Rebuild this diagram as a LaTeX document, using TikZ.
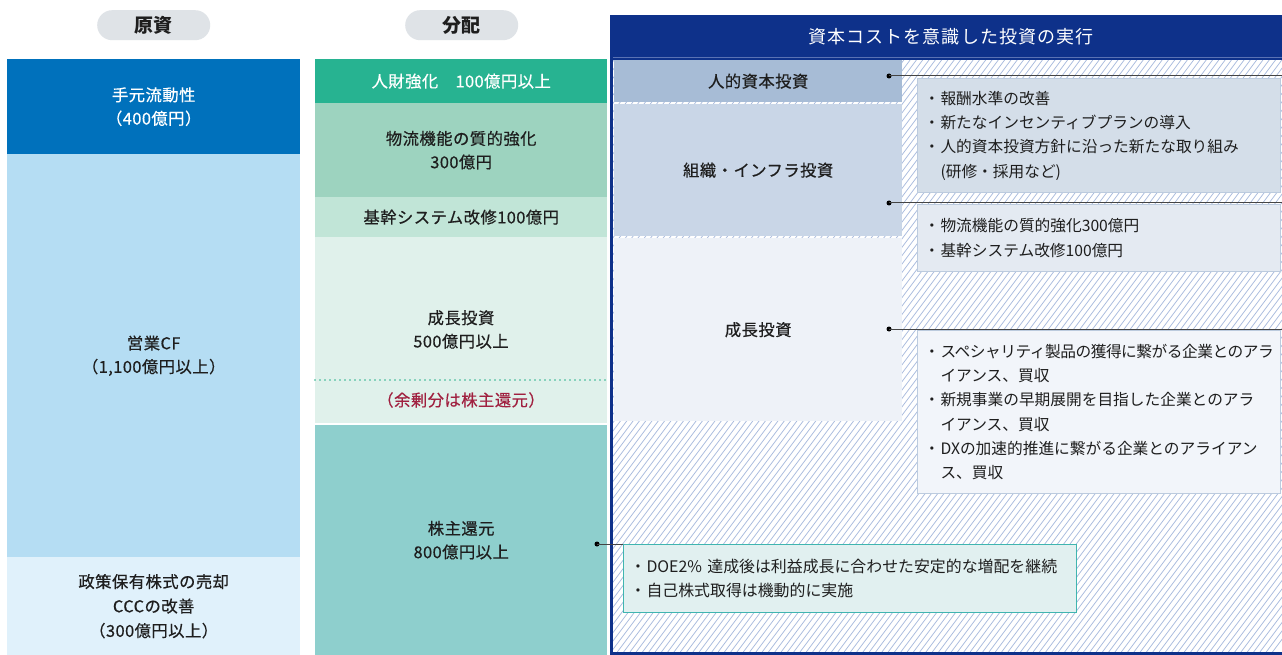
\documentclass[tikz,border=0pt]{standalone}
\usepackage{fontspec}
\setmainfont{Noto Sans CJK JP}
\newfontfamily\labf[LetterSpace=3,FakeBold=0.5]{Noto Sans CJK JP}
\newfontfamily\headf[LetterSpace=6]{Noto Sans CJK JP}
\newfontfamily\tightf[LetterSpace=-3]{Noto Sans CJK JP}
\definecolor{navy}{HTML}{0E318A}
\definecolor{navyline}{HTML}{5A72B4}
\definecolor{pillg}{HTML}{DFE3E7}
\definecolor{lblue}{HTML}{0071BC}
\definecolor{lblueb}{HTML}{B5DDF3}
\definecolor{lbluec}{HTML}{E0F1FB}
\definecolor{mga}{HTML}{27B391}
\definecolor{mgb}{HTML}{9DD3BF}
\definecolor{mgc}{HTML}{C1E5D7}
\definecolor{mgd}{HTML}{E0F1EB}
\definecolor{mge}{HTML}{8ECFCD}
\definecolor{dotg}{HTML}{2EB38F}
\definecolor{crim}{HTML}{A0203F}
\definecolor{ra}{HTML}{A7BCD6}
\definecolor{rb}{HTML}{C9D6E7}
\definecolor{rc}{HTML}{EEF2F8}
\definecolor{ta}{HTML}{D4DEE9}
\definecolor{tb}{HTML}{E4EAF2}
\definecolor{tc}{HTML}{F2F5FA}
\definecolor{tborder}{HTML}{BCCBDE}
\definecolor{td}{HTML}{E1F0F0}
\definecolor{tdborder}{HTML}{3FB5B0}
\definecolor{hatch}{HTML}{A9BBDE}
\definecolor{txt}{HTML}{1E1E1E}
\definecolor{conn}{HTML}{444444}
\newcommand\bl{\makebox[11pt][l]{\kern-5.3pt ・}}
\newcommand\ind{\hspace*{11pt}}
\tikzset{
  blk/.style={rectangle, inner sep=0pt, anchor=north west, align=center,
    font={\labf\fontsize{16.3}{23.5}\selectfont}, text=txt},
  tbox/.style={rectangle, anchor=north west, inner xsep=12pt, inner ysep=0pt,
    align=left, font={\fontsize{15.7}{24.3}\selectfont}, text=txt, line width=1pt},
  pill/.style={rectangle, rounded corners=15pt, fill=pillg, inner sep=0pt,
    minimum width=113pt, minimum height=30pt, anchor=north west,
    font={\bfseries\fontsize{19}{20}\selectfont}, text=txt},
  dotn/.style={circle, fill=black, inner sep=0pt, minimum size=5pt},
  connl/.style={draw=conn, line width=1pt},
}
\begin{document}
\begin{tikzpicture}[x=1pt,y=-1pt]
\useasboundingbox (0,0) rectangle (1282,655);
\fill[white] (0,0) rectangle (1282,655);

% pills
\node[pill] (p1) at (97,10) {原資};
\node[pill] (p2) at (405,10) {分配};

% left column
\node[blk, fill=lblue, text=white, minimum width=293pt, minimum height=95pt] (l1) at (7,59) {手元流動性\\（400億円）};
\node[blk, fill=lblueb, minimum width=293pt, minimum height=403pt] (l2) at (7,154) {営業CF\\（1,100億円以上）};
\node[blk, fill=lbluec, minimum width=293pt, minimum height=98pt, font={\labf\fontsize{16.3}{24.5}\selectfont}] (l3) at (7,557) {政策保有株式の売却\\CCCの改善\\（300億円以上）};

% middle column
\node[blk, fill=mga, text=white, minimum width=292pt, minimum height=44pt] (m1) at (315,59) {人財強化　100億円以上};
\node[blk, fill=mgb, minimum width=292pt, minimum height=94pt] (m2) at (315,103) {物流機能の質的強化\\300億円};
\node[blk, fill=mgc, minimum width=292pt, minimum height=40pt] (m3) at (315,197) {基幹システム改修100億円};
\node[blk, fill=mgd, minimum width=292pt, minimum height=186pt] (m4) at (315,237) {};
\node[blk, anchor=center] (m4t) at (461,329.5) {成長投資\\500億円以上};
\coordinate (dl) at (315,380);
\coordinate (dr) at (607,380);
\draw[dotg, line width=1.6pt, line cap=round, dash pattern=on 0pt off 5pt] (dl) -- (dr);
\node[blk, anchor=center, text=crim] (m4c) at (461,400) {（余剰分は株主還元）};
\node[blk, fill=mge, minimum width=292pt, minimum height=230pt] (m5) at (315,425) {株主還元\\800億円以上};

% right frame
\begin{scope}
  \clip (613,60) rectangle (1282,652);
  \fill[white] (613,60) rectangle (1282,652);
  \foreach \i in {0,...,175} {
    \draw[hatch, line width=0.75pt] ({170+6.3*\i},652) -- ({170+6.3*\i+444},60);
  }
\end{scope}
\fill[navy] (610,15) rectangle (1290,60);
\draw[navyline, line width=0.8pt] (613,57.3) -- (1282,57.3);
\draw[navy, line width=3pt] (1290,653.5) -- (611.5,653.5) -- (611.5,15);
\node[font={\headf\fontsize{18}{20}\selectfont}, text=white] (hd) at (951,37) {資本コストを意識した投資の実行};

\node[blk, fill=ra, minimum width=288pt, minimum height=42pt] (r1) at (614,60) {人的資本投資};
\node[blk, fill=rb, minimum width=288pt, minimum height=132pt] (r2) at (614,104) {組織・インフラ投資};
\node[blk, fill=rc, minimum width=288pt, minimum height=183pt] (r3) at (614,238) {成長投資};

\node[tbox, fill=ta, draw=tborder, minimum width=363pt, text width=339pt, minimum height=114pt] (t1) at (917,78) {\bl 報酬水準の改善\\\bl 新たなインセンティブプランの導入\\\bl 人的資本投資方針に沿った新たな取り組み\\\ind(研修・採用など)};
\node[tbox, fill=tb, draw=tborder, minimum width=363pt, text width=339pt, minimum height=67pt] (t2) at (917,204) {\bl 物流機能の質的強化300億円\\\bl 基幹システム改修100億円};
\node[tbox, fill=tc, draw=tborder, minimum width=363pt, text width=339pt, minimum height=163pt] (t3) at (917,330) {\bl {\tightf スペシャリティ製品の獲得に繋がる企業とのアラ}\\\ind イアンス、買収\\\bl 新規事業の早期展開を目指した企業とのアラ\\\ind イアンス、買収\\\bl DXの加速的推進に繋がる企業とのアライアン\\\ind ス、買収};
\node[tbox, fill=td, draw=tdborder, minimum width=453pt, text width=429pt, minimum height=68pt, font={\fontsize{15.9}{24.3}\selectfont}] (t4) at (623,544) {\bl DOE2\% 達成後は利益成長に合わせた安定的な増配を継続\\\bl 自己株式取得は機動的に実施};

% connectors
\node[dotn] (d1) at (889,76) {};
\node[dotn] (d2) at (889,203) {};
\node[dotn] (d3) at (889,329) {};
\node[dotn] (d4) at (597,544) {};
\coordinate (e1) at (1282,76);
\coordinate (e2) at (1282,203);
\coordinate (e3) at (1282,329);
\draw[connl] (d1.center) -- (e1);
\draw[connl] (d2.center) -- (e2);
\draw[connl] (d3.center) -- (e3);
\draw[connl] (d4.center) -- (t4.north west);
\end{tikzpicture}
\end{document}
